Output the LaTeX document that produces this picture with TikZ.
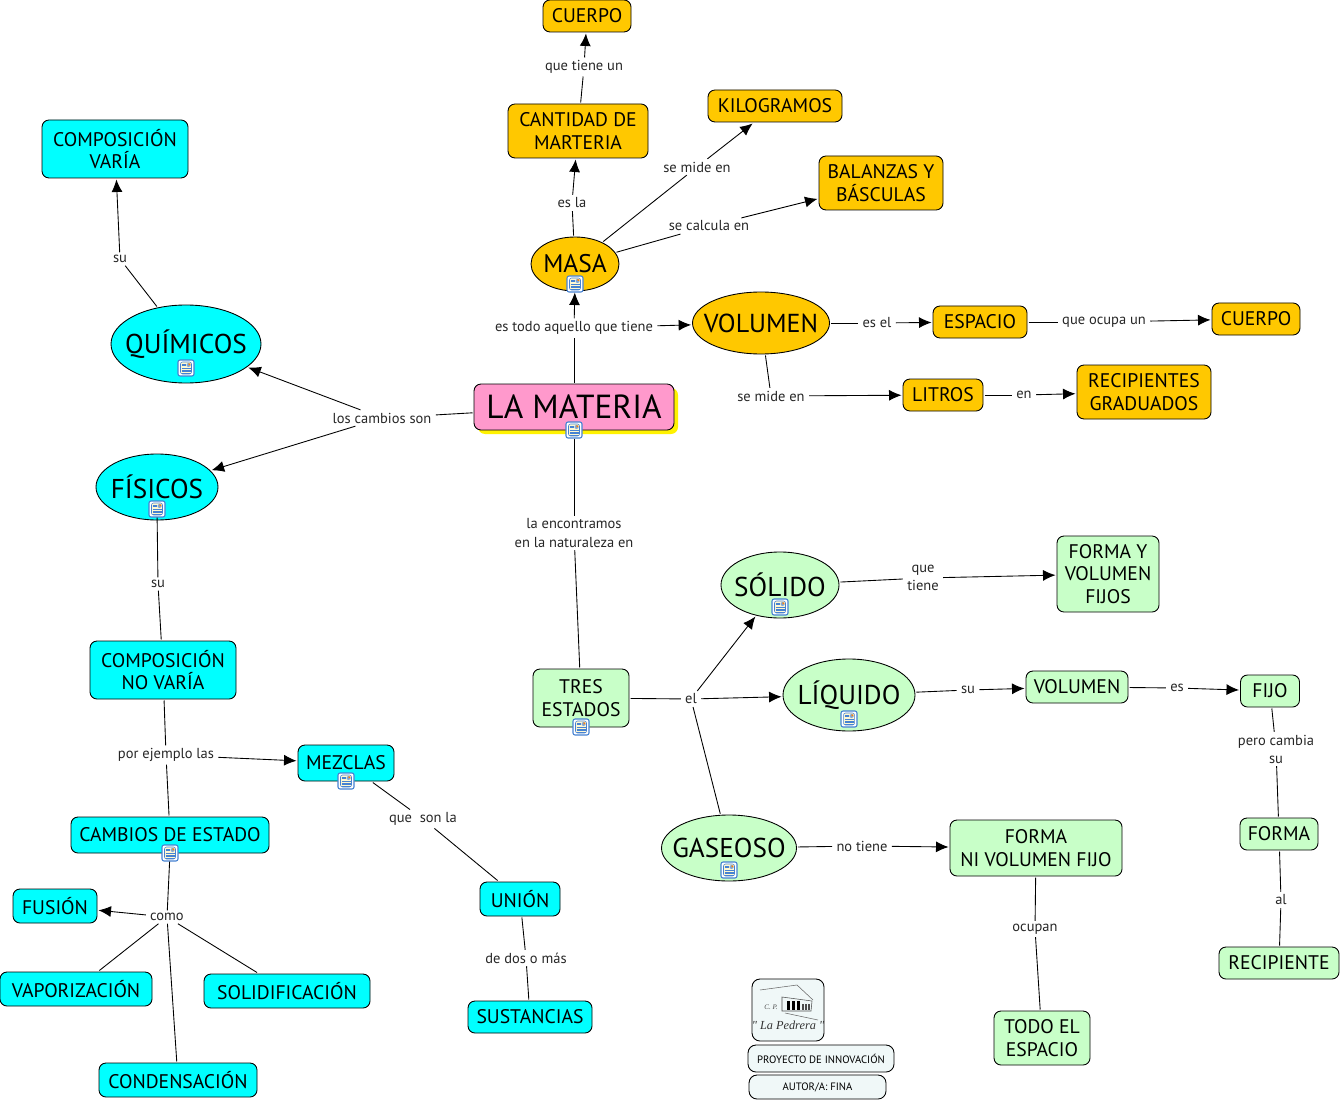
\documentclass[tikz,border=0pt]{standalone}
\usepackage{fontspec}
\setmainfont{PT Sans}
\newfontfamily\logofont{Liberation Serif}
\usetikzlibrary{arrows.meta,shapes.geometric,shadows}
\definecolor{MapOrange}{RGB}{255,200,0}
\definecolor{MapCyan}{RGB}{0,255,255}
\definecolor{MapGreen}{RGB}{200,255,200}
\definecolor{MapPink}{RGB}{255,153,204}
\definecolor{PanelGrey}{RGB}{240,248,248}
\definecolor{IconBlue}{RGB}{70,130,210}
\definecolor{IconPaper}{RGB}{255,248,210}
\tikzset{
	>={Latex[length=2.5mm,width=2.2mm]},
	every path/.style={line width=0.5pt},
	sz/.style 2 args={minimum width=#1*0.02cm, minimum height=#2*0.02cm},
	cbox/.style={draw, rectangle, rounded corners=1.4mm, inner sep=0pt, outer sep=0.03cm, align=center, font=\fontsize{11.2}{12.9}\selectfont},
	coval/.style={draw, ellipse, inner xsep=-2cm, inner ysep=-1cm, outer sep=0.03cm, align=center, font=\fontsize{15.5}{18}\selectfont},
	lnk/.style={inner xsep=0.08cm, inner ysep=0.05cm, align=center, text=black!85, font=\fontsize{8.25}{10.3}\selectfont},
	panel/.style={draw, rectangle, rounded corners=1.6mm, fill=PanelGrey, inner sep=0pt, font=\fontsize{6.1}{7}\selectfont},
	docicon/.style={draw=IconBlue, fill=white, rectangle, rounded corners=0.4mm, inner sep=0pt, minimum size=0.32cm, line width=0.6pt, path picture={
		\begin{scope}[shift={(path picture bounding box.center)}]
			\draw[fill=IconPaper, line width=0.3pt] (-5.5,-6) rectangle (5.5,6);
			\fill[IconBlue!70] (0.5,-5) rectangle (4.5,-1);
			\fill[orange] (2.5,-4.5) rectangle (4,-3);
			\foreach \ly in {-4,-2.5} \draw[line width=0.3pt] (-4.5,\ly) -- (-0.5,\ly);
			\foreach \ly in {0.5,2,3.5,5} \draw[line width=0.3pt] (-4.5,\ly) -- (4.5,\ly);
		\end{scope}}},
}
\begin{document}
\begin{tikzpicture}[x=0.02cm, y=-0.02cm]
	\useasboundingbox (0,0) rectangle (1341,1101);
	% concepts, top right
	\node [cbox, fill=MapOrange, sz={88}{32}] (cuerpoa) at (587,16) {CUERPO};
	\node [cbox, fill=MapOrange, sz={140}{54}] (cantidad) at (578,131) {CANTIDAD DE\\MARTERIA};
	\node [cbox, fill=MapOrange, sz={134}{32}] (kilos) at (775,106) {KILOGRAMOS};
	\node [cbox, fill=MapOrange, sz={124}{54}] (balanzas) at (881,183) {BALANZAS Y\\BÁSCULAS};
	\node [coval, fill=MapOrange, sz={88}{54}, font=\fontsize{14.5}{18}\selectfont] (masa) at (575,264) {MASA};
	\node [coval, fill=MapOrange, sz={137}{62}, font=\fontsize{14.8}{20}\selectfont] (volumen) at (761,323) {VOLUMEN};
	\node [cbox, fill=MapOrange, sz={94}{32}] (espacio) at (980,322) {ESPACIO};
	\node [cbox, fill=MapOrange, sz={88}{32}] (cuerpob) at (1256,319) {CUERPO};
	\node [cbox, fill=MapOrange, sz={80}{32}] (litros) at (943,395) {LITROS};
	\node [cbox, fill=MapOrange, sz={134}{54}] (recipientes) at (1144,392) {RECIPIENTES\\GRADUADOS};
	\node [cbox, fill=MapPink, sz={200}{46}, font=\fontsize{19}{22}\selectfont, drop shadow={shadow xshift=0.08cm, shadow yshift=-0.08cm, fill=yellow, opacity=1}] (materia) at (574,407) {LA MATERIA};
	% concepts, left
	\node [coval, fill=MapCyan, sz={150}{78}, font=\fontsize{15.5}{20}\selectfont] (quimicos) at (186,344) {QUÍMICOS};
	\node [coval, fill=MapCyan, sz={122}{66}] (fisicos) at (157,487) {FÍSICOS};
	\node [cbox, fill=MapCyan, sz={146}{58}] (varia) at (115,149) {COMPOSICIÓN\\VARÍA};
	\node [cbox, fill=MapCyan, sz={146}{58}] (novaria) at (163,670) {COMPOSICIÓN\\NO VARÍA};
	\node [cbox, fill=MapCyan, sz={96}{36}] (mezclas) at (346,763) {MEZCLAS};
	\node [cbox, fill=MapCyan, sz={198}{36}] (cambios) at (170,835) {CAMBIOS DE ESTADO};
	\node [cbox, fill=MapCyan, sz={84}{34}] (fusion) at (55,906) {FUSIÓN};
	\node [cbox, fill=MapCyan, sz={152}{34}] (vapor) at (76,989) {VAPORIZACIÓN};
	\node [cbox, fill=MapCyan, sz={166}{34}] (solidif) at (287,991) {SOLIDIFICACIÓN};
	\node [cbox, fill=MapCyan, sz={158}{34}] (condens) at (178,1080) {CONDENSACIÓN};
	\node [cbox, fill=MapCyan, sz={80}{34}] (union) at (520,899) {UNIÓN};
	\node [cbox, fill=MapCyan, sz={124}{32}] (sustancias) at (530,1017) {SUSTANCIAS};
	% concepts, bottom right
	\node [cbox, fill=MapGreen, sz={96}{58}] (tres) at (581,698) {TRES\\ESTADOS};
	\node [coval, fill=MapGreen, sz={118}{66}] (solido) at (780,585) {SÓLIDO};
	\node [coval, fill=MapGreen, sz={132}{72}] (liquido) at (849,695) {LÍQUIDO};
	\node [coval, fill=MapGreen, sz={135}{66}] (gaseoso) at (729,848) {GASEOSO};
	\node [cbox, fill=MapGreen, sz={102}{76}] (fijos) at (1108,574) {FORMA Y\\VOLUMEN\\FIJOS};
	\node [cbox, fill=MapGreen, sz={102}{32}] (volumenb) at (1077,687) {VOLUMEN};
	\node [cbox, fill=MapGreen, sz={59}{32}] (fijo) at (1270,691) {FIJO};
	\node [cbox, fill=MapGreen, sz={78}{32}] (forma) at (1279,834) {FORMA};
	\node [cbox, fill=MapGreen, sz={120}{32}] (recipiente) at (1279,963) {RECIPIENTE};
	\node [cbox, fill=MapGreen, sz={172}{56}] (formani) at (1036,848) {FORMA\\NI VOLUMEN FIJO};
	\node [cbox, fill=MapGreen, sz={96}{54}] (todo) at (1042,1038) {TODO EL\\ESPACIO};
	% icons
	\node [docicon] (masaicon) at (575,284) {};
	\node [docicon] (materiaicon) at (574,430) {};
	\node [docicon] (quimicosicon) at (186,368) {};
	\node [docicon] (fisicosicon) at (157,509) {};
	\node [docicon] (mezclasicon) at (346,781) {};
	\node [docicon] (cambiosicon) at (170,853) {};
	\node [docicon] (tresicon) at (581,727) {};
	\node [docicon] (solidoicon) at (780,607) {};
	\node [docicon] (liquidoicon) at (849,719) {};
	\node [docicon] (gaseosoicon) at (729,870) {};
	% link labels
	\node [lnk] (ltiene) at (584,67) {que tiene un};
	\node [lnk] (lesla) at (572,203) {es la};
	\node [lnk] (lmidea) at (697,167) {se mide en};
	\node [lnk] (lcalcula) at (709,226) {se calcula en};
	\node [lnk] (ltodo) at (574,328) {es todo aquello que tiene};
	\node [lnk] (lesel) at (877,323) {es el};
	\node [lnk] (locupa) at (1104,322) {que ocupa un};
	\node [lnk] (lmideb) at (771,396) {se mide en};
	\node [lnk] (len) at (1024,395) {en};
	\node [lnk] (lcambios) at (382,418) {los cambios son};
	\node [lnk] (lsua) at (120,259) {su};
	\node [lnk] (lsub) at (158,584) {su};
	\node [lnk] (lnatura) at (574,533) {la encontramos\\en la naturaleza en};
	\node [lnk] (lquetiene) at (923,578) {que\\tiene};
	\node [lnk] (lel) at (691,699) {el};
	\node [lnk] (lsuc) at (968,690) {su};
	\node [lnk] (les) at (1177,688) {es};
	\node [lnk] (lpero) at (1276,749) {pero cambia\\su};
	\node [lnk] (lnotiene) at (862,846) {no tiene};
	\node [lnk] (locupan) at (1035,929) {ocupan};
	\node [lnk] (lal) at (1281,900) {al};
	\node [lnk] (lejemplo) at (166,755) {por ejemplo las};
	\node [lnk] (lsonla) at (423,819) {que~~son la};
	\node [lnk] (lcomo) at (167,917) {como};
	\node [lnk] (ldos) at (526,958) {de dos o más};
	% connectors
	\draw (materia) -- (ltodo);
	\draw[->] (ltodo) -- (masaicon);
	\draw[->] (ltodo) -- (volumen);
	\draw (masa) -- (lesla);
	\draw[->] (lesla) -- (cantidad);
	\draw (cantidad) -- (ltiene);
	\draw[->] (ltiene) -- (cuerpoa);
	\draw (masa) -- (lmidea);
	\draw[->] (lmidea) -- (kilos);
	\draw (masa) -- (lcalcula);
	\draw[->] (lcalcula) -- (balanzas);
	\draw (volumen) -- (lesel);
	\draw[->] (lesel) -- (espacio);
	\draw (espacio) -- (locupa);
	\draw[->] (locupa) -- (cuerpob);
	\draw (volumen) -- (lmideb);
	\draw[->] (lmideb) -- (litros);
	\draw (litros) -- (len);
	\draw[->] (len) -- (recipientes);
	\draw (materia) -- (lcambios);
	\draw[->] (lcambios) -- (quimicos);
	\draw[->] (lcambios) -- (fisicos);
	\draw (quimicos) -- (lsua);
	\draw[->] (lsua) -- (varia);
	\draw (fisicosicon) -- (lsub);
	\draw (lsub) -- (novaria);
	\draw (novaria) -- (lejemplo);
	\draw (lejemplo) -- (cambios);
	\draw[->] (lejemplo) -- (mezclas);
	\draw (mezclas) -- (lsonla);
	\draw (lsonla) -- (union);
	\draw (union) -- (ldos);
	\draw (ldos) -- (sustancias);
	\draw (cambiosicon) -- (lcomo);
	\draw[->] (lcomo) -- (fusion);
	\draw (lcomo) -- (vapor);
	\draw (lcomo) -- (solidif);
	\draw (lcomo) -- (condens);
	\draw (materiaicon) -- (lnatura);
	\draw (lnatura) -- (tres);
	\draw (tres) -- (lel);
	\draw[->] (lel) -- (solido);
	\draw[->] (lel) -- (liquido);
	\draw (lel) -- (gaseoso);
	\draw (solido) -- (lquetiene);
	\draw[->] (lquetiene) -- (fijos);
	\draw (liquido) -- (lsuc);
	\draw[->] (lsuc) -- (volumenb);
	\draw (volumenb) -- (les);
	\draw[->] (les) -- (fijo);
	\draw (fijo) -- (lpero);
	\draw (lpero) -- (forma);
	\draw (forma) -- (lal);
	\draw (lal) -- (recipiente);
	\draw (gaseoso) -- (lnotiene);
	\draw[->] (lnotiene) -- (formani);
	\draw (formani) -- (locupan);
	\draw (locupan) -- (todo);
	% logo and credits
	\node [panel, sz={72}{62}] (logo) at (788,1010) {};
	\node [panel, sz={146}{27}] (proyecto) at (821,1058.5) {PROYECTO DE INNOVACIÓN};
	\node [panel, sz={137}{24}] (autor) at (817.5,1087) {AUTOR/A: FINA};
	\draw[black!60, line width=0.3pt] (760,990) -- (797,985) -- (813,1000);
	\draw[black!70, line width=0.3pt] (782,997) -- (812,1001) -- (811,1011) -- (782,1011) -- cycle;
	\foreach \wx in {787,792,797} \fill[black] (\wx,1001) rectangle +(2.5,9);
	\foreach \wx in {802,805,808} \fill[black!70] (\wx,1004) rectangle +(1.5,6);
	\draw[black!60, line width=0.3pt] (785,1013) -- (818,1020);
	\node [inner sep=0pt, text=black!70, font=\logofont\itshape\fontsize{4}{5}\selectfont] (logocp) at (771,1007) {C. P.};
	\node [inner sep=0pt, text=black!80, font=\logofont\itshape\fontsize{7}{9}\selectfont] (logoname) at (788,1025) {" La Pedrera "};
\end{tikzpicture}
\end{document}
